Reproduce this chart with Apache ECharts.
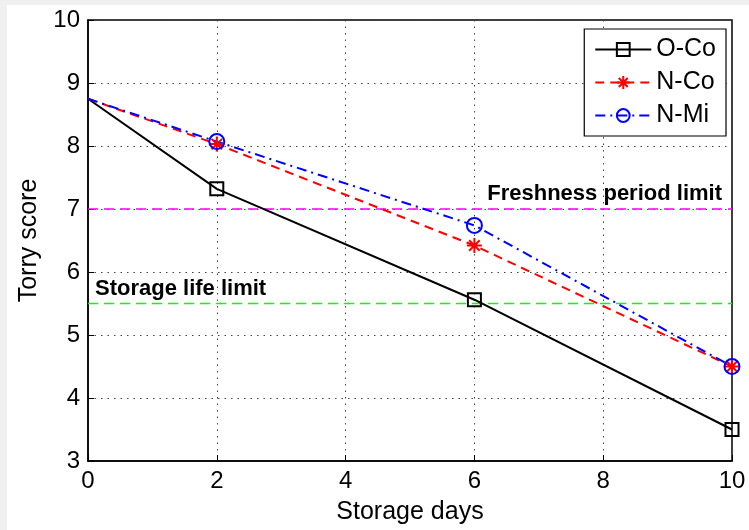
<!DOCTYPE html>
<html>
<head>
<meta charset="utf-8">
<script src="https://cdn.jsdelivr.net/npm/echarts@6/dist/echarts.min.js"></script>
<style>
  html, body { margin: 0; padding: 0; background: #f0f0f0; }
  #chart { position: absolute; left: 7px; top: 5px; width: 742px; height: 525px; background: #fff; }
</style>
</head>
<body>
<div id="chart"></div>
<script>
// storage days on the x axis
const days = [0, 2, 6, 10];
// torry scores per treatment
const oCo = [8.75, 7.32, 5.56, 3.5];
const nCo = [8.75, 8.03, 6.42, 4.5];
const nMi = [8.75, 8.07, 6.74, 4.5];
// horizontal limits, drawn across the whole x range
const xRange = [0, 10];
const freshnessLimit = 7;
const storageLimit = 5.5;

const font = 'Liberation Sans, Arial, sans-serif';
const asterisk = 'path://M10,0L10,20M0,10L20,10M3,3L17,17M17,3L3,17';

// no marker on day 0 (as in the original plot)
function pairs(ys) {
  return days.map((d, i) => i === 0 ? { value: [d, ys[i]], symbol: 'none' } : [d, ys[i]]);
}

// flat line with its caption placed at one end
function limitSeries(name, y, color, labelAt) {
  const pts = xRange.map((x, i) => {
    if (i !== labelAt) return [x, y];
    return {
      value: [x, y],
      label: {
        show: true, formatter: name, position: 'top', distance: 4,
        align: labelAt === 0 ? 'left' : 'right',
        offset: [labelAt === 0 ? 7 : -10, 0],
        fontFamily: font, fontSize: 22, fontWeight: 'bold', color: '#000'
      }
    };
  });
  return {
    name: name, type: 'line', data: pts, silent: true,
    symbol: 'circle', symbolSize: 0, z: 1,
    color: color,
    lineStyle: { color: color, type: [10, 6], width: 1.5 },
    itemStyle: { color: color }
  };
}

const chart = echarts.init(document.getElementById('chart'));
chart.setOption({
  animation: false,
  grid: {
    left: 81, right: 17, top: 15, bottom: 67,
    show: true, borderColor: '#000', borderWidth: 1.5
  },
  legend: {
    orient: 'vertical',
    right: 23, top: 24,
    padding: [8, 10, 8, 10],
    itemWidth: 56, itemHeight: 16,
    itemGap: 8,
    backgroundColor: '#fff',
    borderColor: '#000', borderWidth: 1.2,
    textStyle: { fontFamily: font, fontSize: 25, color: '#000' },
    data: ['O-Co', 'N-Co', 'N-Mi']
  },
  xAxis: {
    type: 'value', min: 0, max: 10, interval: 2,
    name: 'Storage days', nameLocation: 'middle', nameGap: 39,
    nameTextStyle: { fontFamily: font, fontSize: 25, color: '#000' },
    axisLine: { lineStyle: { color: '#000', width: 1.5 } },
    axisTick: { inside: true, length: 6, lineStyle: { color: '#000' } },
    axisLabel: { fontFamily: font, fontSize: 24, color: '#000', margin: 8 },
    splitLine: { lineStyle: { color: '#444', type: [1.5, 5], width: 1 } }
  },
  yAxis: {
    type: 'value', min: 3, max: 10, interval: 1,
    name: 'Torry score', nameLocation: 'middle', nameGap: 46,
    nameTextStyle: { fontFamily: font, fontSize: 25, color: '#000' },
    axisLine: { show: true, lineStyle: { color: '#000', width: 1.5 } },
    axisTick: { show: true, inside: true, length: 6, lineStyle: { color: '#000' } },
    axisLabel: { fontFamily: font, fontSize: 24, color: '#000', margin: 8 },
    splitLine: { lineStyle: { color: '#444', type: [1.5, 5], width: 1 } }
  },
  series: [
    limitSeries('Freshness period limit', freshnessLimit, '#ff00ff', 1),
    limitSeries('Storage life limit', storageLimit, '#00ff00', 0),
    {
      name: 'O-Co', type: 'line', data: pairs(oCo),
      symbol: 'rect', symbolSize: 13,
      lineStyle: { color: '#000', width: 2 },
      itemStyle: { color: 'none', borderColor: '#000', borderWidth: 2 }
    },
    {
      name: 'N-Co', type: 'line', data: pairs(nCo),
      symbol: asterisk, symbolSize: 15,
      lineStyle: { color: '#ff0000', width: 2, type: [9, 6] },
      itemStyle: { color: 'none', borderColor: '#ff0000', borderWidth: 2 }
    },
    {
      name: 'N-Mi', type: 'line', data: pairs(nMi),
      symbol: 'circle', symbolSize: 15,
      lineStyle: { color: '#0000ff', width: 2, type: [10, 5, 2, 5] },
      itemStyle: { color: 'none', borderColor: '#0000ff', borderWidth: 2 }
    }
  ]
});
</script>
</body>
</html>
